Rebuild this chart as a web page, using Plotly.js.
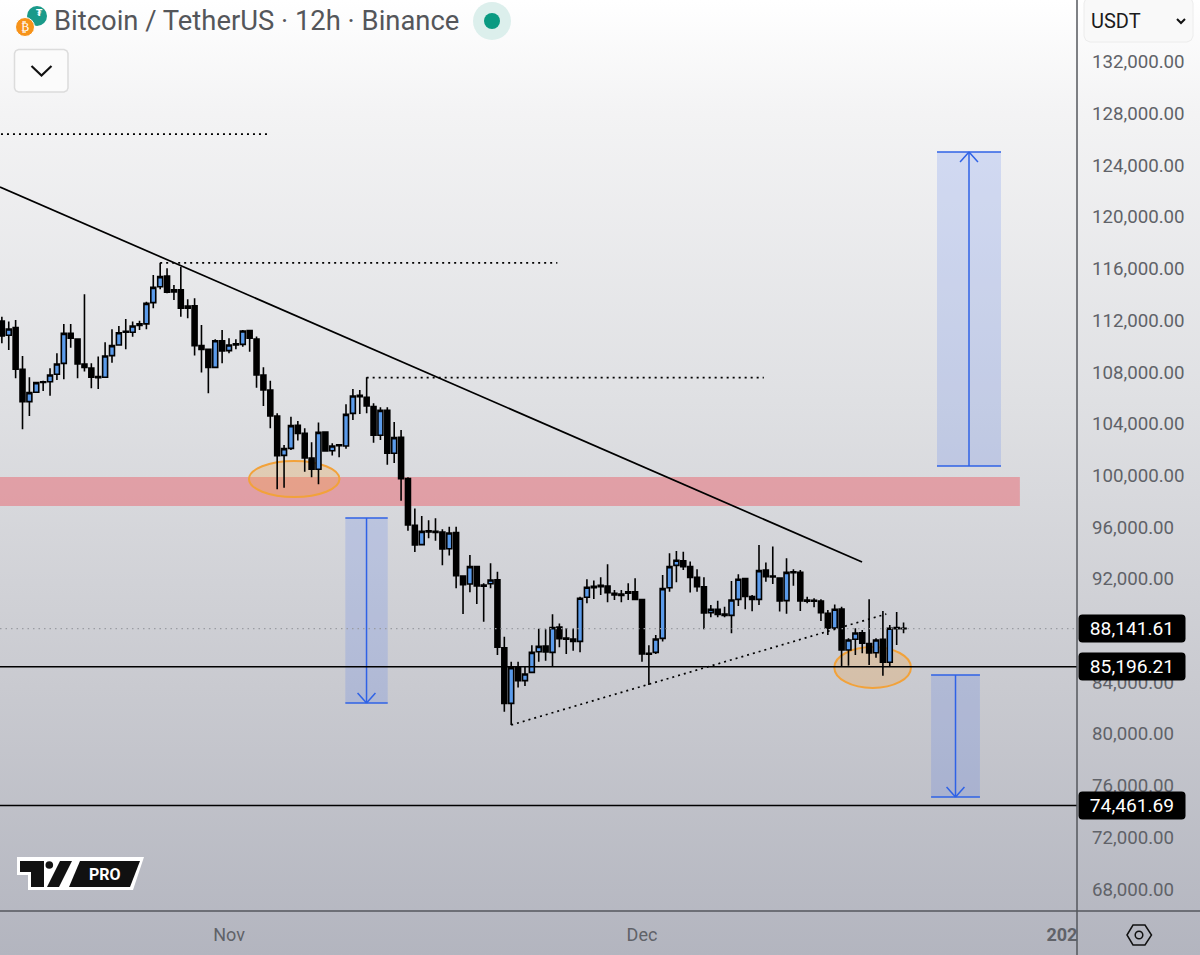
<!DOCTYPE html>
<html><head><meta charset="utf-8">
<script src="https://cdn.plot.ly/plotly-3.0.1.min.js"></script>
<style>
html,body{margin:0;padding:0;width:1200px;height:955px;overflow:hidden;background:linear-gradient(180deg,#ffffff 0%,#f3f3f4 12%,#dfe0e3 42%,#c9cad0 72%,#b3b5bf 100%);}
#c{width:1200px;height:955px;}
</style></head><body><div id="c"></div>
<script>
// 12h candles, first one 16.5 days before 1 Nov 2025
const firstCandle = '2025-10-15T12:00:00Z';
const opens = [111950,110840,111430,108210,105710,106430,107250,107250,107820,108670,110990,110550,108620,108310,107640,107590,109270,110090,111150,111070,111720,111720,113370,114600,115430,114350,114350,113110,113130,110040,109750,108360,110420,109650,110190,110140,111200,110550,107770,106610,104600,101550,102090,103870,103250,101350,100470,103360,101910,102370,102270,104800,106190,106040,105320,103100,105030,101710,102940,99750,96140,94640,95720,95670,95620,94330,95570,92220,91600,92940,91520,91620,91930,86670,82360,85200,84120,84760,86360,86800,86310,88270,87420,87340,87160,90570,91420,91490,91440,90880,90820,91000,91000,90390,86230,86310,87390,91310,93040,93400,92940,92110,91390,89380,89640,89280,89170,90410,92010,90620,90410,92680,92220,92060,90310,92550,92500,90360,90330,90280,89330,88190,89660,86490,87320,87830,86980,86280,87320,85540,88220,88170];
const highs = [112280,111900,112020,109240,107590,107250,107330,108290,109450,111720,111720,110610,114010,108670,109190,110300,111300,111560,112100,111900,111970,113440,115510,116460,116020,114730,116150,113620,113700,111640,109760,110530,111250,110610,110530,111250,111250,110740,108360,107330,104800,102350,104540,104210,103640,102560,104100,103380,102480,102380,105500,106680,106610,107590,105580,105270,105270,104130,103510,99850,97430,96860,96520,96680,95830,96030,96030,92240,93840,92990,91650,93200,92550,87520,85590,85590,85200,86850,88140,88090,89250,88550,88170,88170,90620,91960,91860,92110,93120,91130,91130,91650,92040,90410,86850,87650,92290,93970,94150,94100,93330,92730,92110,89970,90310,89840,91830,92350,92040,90750,94610,93270,94490,92110,93580,92730,92680,90620,90490,90410,89590,90020,89840,87390,88170,88040,90410,87390,89510,88430,89430,88610];
const lows = [110220,109700,107510,103570,104600,106400,106530,106170,107380,107430,109880,107510,108030,106740,106690,107560,108720,110060,109750,110730,111250,111300,112930,114400,114090,113570,112280,112150,109270,107970,106350,108340,108670,109450,109750,109960,109570,106790,105370,103640,98920,99050,101960,102690,100290,99850,99310,101840,101530,101400,102070,104290,104750,104800,102530,102740,100830,100960,98040,95720,94070,94620,95130,94950,93040,93810,91260,89280,90950,90050,88680,91260,86100,81720,80690,83580,83700,84740,85590,85660,85250,86700,86180,86440,86310,90100,90440,90750,90180,90360,90180,90360,90360,85590,83780,86180,87140,91000,91730,92680,90930,91000,88090,89020,89020,89020,87780,89900,89640,89480,89970,91780,91600,89460,89300,91470,89510,90100,89790,88730,87650,88090,85200,85280,86100,86230,85330,85900,84500,85200,86880,87780];
const closes = [110790,111330,108210,105710,106400,107180,107200,107770,108620,110990,110610,108620,108360,107590,107560,109240,110040,111040,111070,111560,111610,113310,114550,115380,114170,114190,112930,112930,110040,109750,108360,110420,109630,110090,110090,111170,110610,107770,106610,104600,101530,102070,103850,103250,101350,100470,103330,101890,102270,102300,104720,106140,106090,105370,103100,105030,101710,102920,99750,96160,94610,95670,95620,95590,94300,95540,92240,91550,92940,91440,91420,91910,86700,82360,85120,84120,84630,86310,86770,86340,88220,87370,87320,87160,90490,91340,91310,91390,90930,90750,90720,90880,90410,86180,86160,87340,91240,92940,93430,92940,92110,91390,89350,89640,89250,89170,90360,91960,90640,90410,92630,92160,92140,90280,92500,92470,90280,90260,90260,89380,88170,89640,86490,87260,87810,87010,86260,87260,85540,88170,88140,88140];

const tickPrices = [68000,72000,76000,80000,84000,92000,96000,100000,104000,108000,112000,116000,120000,124000,128000,132000];
const monthTicks = ['2025-11-01','2025-12-01','2025-12-31T12:00:00Z'];
const monthLabels = ['Nov','Dec','<b>202</b>'];

const levelPrices = [85196.21,74461.69];
const lastPrice = 88141.61;
const tagPrices = ['88,141.61','85,196.21','74,461.69'];
const tagValues = [88141.61,85196.21,74461.69];

// drawings, x given in 12h bars from 1 Nov
const horizontals = [[-34,126410,5.8],[-10,116450,47.7],[20,107560,77.7]];
const trendSolid = [-33.27,122313,91.97,93299];
const trendDotted = [41,80690,95.5,89276];
const supply = [-34,114.9,97632,99875];
const ellipses = [[2.9,16.05,98328,101113],[87.94,99.08,83551,86723]];
const zones = [[16.9,23.06,82390,96703,-1],[102.86,112.16,100727,125021,1],[102,109.1,75117,84556,-1]];

const T0 = Date.UTC(2025,10,1);
const kd = k => new Date(T0 + k*43200000).toISOString();
const px = x => x/1077, py = y => 1-y/911;
const start = Date.parse(firstCandle);
const dates = opens.map((_,i)=>new Date(start+i*43200000).toISOString());

const shapes = [];
const BLUE = '#2f62e6';
// supply band
shapes.push({type:'rect',layer:'below',xref:'x',yref:'y',x0:kd(supply[0]),x1:kd(supply[1]),y0:supply[2],y1:supply[3],line:{width:0},fillcolor:'rgba(232,105,115,0.52)'});
// ellipses
ellipses.forEach(e=>shapes.push({type:'circle',layer:'below',xref:'x',yref:'y',x0:kd(e[0]),x1:kd(e[1]),y0:e[2],y1:e[3],line:{color:'#f2a23a',width:2},fillcolor:'rgba(245,166,70,0.28)'}));
// blue zones
zones.forEach(z=>{
  const mid=(z[0]+z[1])/2;
  shapes.push({type:'rect',layer:'below',xref:'x',yref:'y',x0:kd(z[0]),x1:kd(z[1]),y0:z[2],y1:z[3],line:{width:0},fillcolor:'rgba(50,100,240,0.16)'});
  [z[2],z[3]].forEach(p=>shapes.push({type:'line',xref:'x',yref:'y',x0:kd(z[0]),x1:kd(z[1]),y0:p,y1:p,line:{color:BLUE,width:1.5}}));
  shapes.push({type:'line',xref:'x',yref:'y',x0:kd(mid),x1:kd(mid),y0:z[2],y1:z[3],line:{color:BLUE,width:1.5}});
  const tip=z[4]>0?z[3]:z[2], back=tip-z[4]*780;
  [-1.3,1.3].forEach(d=>shapes.push({type:'line',xref:'x',yref:'y',x0:kd(mid),x1:kd(mid+d),y0:tip,y1:back,line:{color:BLUE,width:1.5}}));
});
// level lines
levelPrices.forEach(p=>shapes.push({type:'line',xref:'paper',yref:'y',x0:0,x1:1,y0:p,y1:p,line:{color:'#000',width:1.6}}));
shapes.push({type:'line',xref:'paper',yref:'y',x0:0,x1:1,y0:lastPrice,y1:lastPrice,line:{color:'#9a9ca2',width:1.2,dash:'1.5px 4px'}});
// dotted highs
horizontals.forEach(h=>shapes.push({type:'line',xref:'x',yref:'y',x0:kd(h[0]),x1:kd(h[2]),y0:h[1],y1:h[1],line:{color:'#000',width:1.7,dash:'2px 4px'}}));
// trend lines
shapes.push({type:'line',xref:'x',yref:'y',x0:kd(trendSolid[0]),x1:kd(trendSolid[2]),y0:trendSolid[1],y1:trendSolid[3],line:{color:'#000',width:1.7}});
shapes.push({type:'line',xref:'x',yref:'y',x0:kd(trendDotted[0]),x1:kd(trendDotted[2]),y0:trendDotted[1],y1:trendDotted[3],line:{color:'#000',width:1.7,dash:'2px 4px'}});

// chrome (paper positions)
const poly = (pts,fill,line,lw)=>({type:'path',xref:'paper',yref:'paper',path:'M'+pts.map(p=>px(p[0])+','+py(p[1])).join('L')+'Z',fillcolor:fill,line:{color:line||fill,width:lw||0}});
const open = (pts,line,lw)=>({type:'path',xref:'paper',yref:'paper',path:'M'+pts.map(p=>px(p[0])+','+py(p[1])).join('L'),line:{color:line,width:lw}});
const disc = (cx,cy,r,fill,line,lw)=>({type:'circle',xref:'paper',yref:'paper',x0:px(cx-r),x1:px(cx+r),y0:py(cy+r),y1:py(cy-r),fillcolor:fill,line:{color:line||fill,width:lw||0}});
const round = (x0,y0,x1,y1,r)=>[[x0+r,y0],[x1-r,y0],[x1-r*.3,y0+r*.3],[x1,y0+r],[x1,y1-r],[x1-r*.3,y1-r*.3],[x1-r,y1],[x0+r,y1],[x0+r*.3,y1-r*.3],[x0,y1-r],[x0,y0+r],[x0+r*.3,y0+r*.3]];
shapes.push(
  // axis lines
  {type:'line',xref:'paper',yref:'paper',x0:1,x1:1,y0:py(955),y1:1,line:{color:'#55575c',width:1.5}},
  {type:'line',xref:'paper',yref:'paper',x0:0,x1:px(1200),y0:0,y1:0,line:{color:'#55575c',width:1.5}},
  // coins and status dot
  disc(37,16,10,'#1a9a8a'), disc(25,27,9.5,'#f7931a','#ffffff',1),
  disc(492,21,19,'#dcefec'), disc(492,21,8,'#0b9a82'),
  // interval button
  poly(round(14.5,49.5,68,92,4),'#fbfbfb','#dcdcdc',1.5),
  open([[31.5,66],[41.5,75.5],[51.5,66]],'#111',2.2),
  // currency button
  poly(round(1084,-3,1193,42,6),'#f9f9f9','#ececec',1),
  open([[1177,19],[1181,23],[1185,19]],'#111',2),
  // settings glyph
  poly([[1127,935],[1133,925],[1145,925],[1151.5,935],[1145,945],[1133,945]],'rgba(0,0,0,0)','#111',1.5),
  disc(1139,935,3.8,'rgba(0,0,0,0)','#111',1.5),
  // logo
  poly([[17,857],[144,857],[133,890],[28,890],[28,875],[17,875]],'#fff'),
  poly([[20,861],[44,861],[44,887],[31,887],[31,872],[20,872]],'#111'),
  disc(49.3,865,3.8,'#111'),
  poly([[60,861],[72,861],[59,887],[47,887]],'#111'),
  poly([[80,861],[140,861],[130,887],[69,887]],'#111')
);

const RB='Roboto, sans-serif';
const annotations = [
 {text:'Bitcoin / TetherUS · 12h · Binance',x:px(53),y:py(21),xanchor:'left',yanchor:'middle',font:{family:RB,size:27.4,color:'#54565a'}},
 {text:'<b>₮</b>',x:px(40),y:py(13),xanchor:'center',yanchor:'middle',font:{family:'DejaVu Sans',size:9,color:'#fff'}},
 {text:'₿',x:px(25),y:py(27),xanchor:'center',yanchor:'middle',font:{family:'DejaVu Sans',size:12,color:'#fff'}},
 {text:'USDT',x:px(1090),y:py(21),xanchor:'left',yanchor:'middle',font:{family:RB,size:20,color:'#1c1c1c'}},
 {text:'<b>PRO</b>',x:px(105),y:py(874),xanchor:'center',yanchor:'middle',font:{family:RB,size:16,color:'#fff'}}
].map(a=>Object.assign({xref:'paper',yref:'paper',showarrow:false,borderpad:0},a));
tagValues.forEach((v,i)=>annotations.push({xref:'paper',yref:'y',x:px(1078),y:v,xanchor:'left',yanchor:'middle',showarrow:false,text:tagPrices[i],width:106,height:27,align:'center',valign:'middle',bgcolor:'#000',borderpad:0,font:{family:RB,size:19.2,color:'#fff'}}));

const trace = {type:'candlestick',x:dates,open:opens,high:highs,low:lows,close:closes,
  increasing:{line:{color:'#000',width:1.6},fillcolor:'#5b9bea'},
  decreasing:{line:{color:'#000',width:1.6},fillcolor:'#000'},
  hoverinfo:'skip',showlegend:false};

const layout = {width:1200,height:955,margin:{l:0,r:123,t:0,b:44,pad:0},boxgap:0.28,boxgroupgap:0,
  paper_bgcolor:'rgba(0,0,0,0)',plot_bgcolor:'rgba(0,0,0,0)',showlegend:false,hovermode:false,dragmode:false,
  xaxis:{type:'date',range:[kd(-33.27),kd(123.2)],rangeslider:{visible:false},showgrid:false,zeroline:false,showline:false,
    tickmode:'array',tickvals:monthTicks,ticktext:monthLabels,ticks:'',ticklabelstandoff:11,tickfont:{family:RB,size:18,color:'#606268'}},
  yaxis:{side:'right',range:[66297,136781],showgrid:false,zeroline:false,showline:false,
    tickmode:'array',tickvals:tickPrices,tickformat:',.2f',ticks:'',ticklabelstandoff:14,ticklabelshift:-1.5,tickfont:{family:RB,size:18.7,color:'#606268'}},
  shapes,annotations};
Plotly.newPlot('c',[trace],layout,{displayModeBar:false,staticPlot:true}).then(()=>{
  document.querySelectorAll('.annotation rect.bg').forEach(r=>r.setAttribute('rx',4));
});
</script></body></html>
